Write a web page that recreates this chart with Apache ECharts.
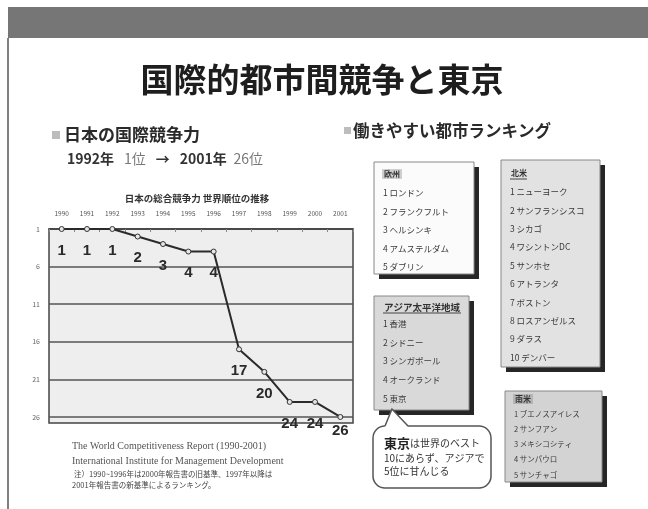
<!DOCTYPE html>
<html><head><meta charset="utf-8">
<script src="https://cdn.jsdelivr.net/npm/echarts@6/dist/echarts.min.js"></script>
<style>html,body{margin:0;padding:0;background:#fff}#c{width:648px;height:509px}</style>
</head><body><div id="c"></div>
<script>
// Japan's overall competitiveness, world rank by year
const years = ['1990','1991','1992','1993','1994','1995','1996','1997','1998','1999','2000','2001'];
const ranks = [1, 1, 1, 2, 3, 4, 4, 17, 20, 24, 24, 26];
const rankTicks = [1, 6, 11, 16, 21, 26];

// Ranking of cities that are good to work in, by region
const europeHeader = '欧州';
const europeCities = ['1 ロンドン', '2 フランクフルト', '3 ヘルシンキ', '4 アムステルダム', '5 ダブリン'];
const northAmericaHeader = '北米';
const northAmericaCities = ['1 ニューヨーク', '2 サンフランシスコ', '3 シカゴ', '4 ワシントンDC', '5 サンホセ',
  '6 アトランタ', '7 ボストン', '8 ロスアンゼルス', '9 ダラス', '10 デンバー'];
const asiaHeader = 'アジア太平洋地域';
const asiaCities = ['1 香港', '2 シドニー', '3 シンガポール', '4 オークランド', '5 東京'];
const latinHeader = '南米';
const latinCities = ['1 ブエノスアイレス', '2 サンフアン', '3 メキシコシティ', '4 サンパウロ', '5 サンチャゴ'];

const sourceLines = [
  'The World Competitiveness Report (1990-2001)',
  'International Institute for Management Development'
];
const noteLines = [
  '注）1990~1996年は2000年報告書の旧基準、1997年以降は',
  '2001年報告書の新基準によるランキング。'
];

const JP = "'Noto Sans CJK JP', 'Noto Sans', sans-serif";

function cityBox(x, y, w, h, fill, header, items, opts) {
  const els = [];
  els.push({ type: 'rect', shape: { x: x + 5, y: y + 5, width: w, height: h }, style: { fill: '#262626' }, z: 1 });
  els.push({ type: 'rect', shape: { x: x, y: y, width: w, height: h }, style: { fill: fill, stroke: '#888', lineWidth: 1 }, z: 2 });
  els.push({ type: 'text', x: x + 8, y: y + opts.headY, z: 3,
    style: { text: header, font: 'bold ' + opts.headSize + 'px ' + JP, fill: '#333', verticalAlign: 'middle',
      backgroundColor: opts.headBg || 'transparent', padding: [1, 2] } });
  if (opts.underline) {
    els.push({ type: 'line', z: 3, shape: { x1: x + 9, y1: y + opts.headY + 6, x2: x + 9 + opts.underline, y2: y + opts.headY + 6 },
      style: { stroke: '#444', lineWidth: 1 } });
  }
  items.forEach((t, i) => {
    els.push({ type: 'text', x: x + 9, y: y + opts.firstY + i * opts.step, z: 3,
      style: { text: t, font: opts.itemSize + 'px ' + JP, fill: '#3a3a3a', verticalAlign: 'middle' } });
  });
  return els;
}

const graphics = [
  // header band and slide edge
  { type: 'rect', shape: { x: 8, y: 7, width: 640, height: 31 }, style: { fill: '#767676' } },
  { type: 'line', shape: { x1: 8, y1: 38, x2: 8, y2: 509 }, style: { stroke: '#555', lineWidth: 1.5 } },
  // main title
  { type: 'text', x: 322, y: 79, style: { text: '国際的都市間競争と東京', font: 'bold 33px ' + JP, fill: '#1e1e1e', align: 'center', verticalAlign: 'middle' } },
  // left section heading
  { type: 'rect', shape: { x: 52, y: 131, width: 8, height: 8 }, style: { fill: '#bdbdbd' } },
  { type: 'text', x: 64, y: 135, style: { text: '日本の国際競争力', font: 'bold 17px ' + JP, fill: '#2a2a2a', verticalAlign: 'middle' } },
  { type: 'text', x: 67, y: 159, style: {
      text: '{b|1992年}   {l|1位}   {b|→}   {b|2001年}  {l|26位}', verticalAlign: 'middle',
      rich: { b: { font: 'bold 14px ' + JP, fill: '#333' }, l: { font: '14px ' + JP, fill: '#777' } } } },
  // chart caption
  { type: 'text', x: 197, y: 198, style: { text: '日本の総合競争力 世界順位の推移', font: 'bold 9.5px ' + JP, fill: '#333', align: 'center', verticalAlign: 'middle' } },
  // right section heading
  { type: 'rect', shape: { x: 344, y: 127, width: 7, height: 7 }, style: { fill: '#bdbdbd' } },
  { type: 'text', x: 353, y: 131, style: { text: '働きやすい都市ランキング', font: 'bold 16.5px ' + JP, fill: '#2a2a2a', verticalAlign: 'middle' } },
  // source notes
  { type: 'text', x: 72, y: 446, style: { text: sourceLines[0], font: '10px "Liberation Serif", serif', fill: '#555', verticalAlign: 'middle' } },
  { type: 'text', x: 72, y: 461, style: { text: sourceLines[1], font: '10px "Liberation Serif", serif', fill: '#555', verticalAlign: 'middle' } },
  { type: 'text', x: 74, y: 474, style: { text: noteLines[0], font: '7.5px ' + JP, fill: '#444', verticalAlign: 'middle' } },
  { type: 'text', x: 72, y: 485, style: { text: noteLines[1], font: '7.5px ' + JP, fill: '#444', verticalAlign: 'middle' } }
]
.concat(cityBox(374, 162, 100, 112, '#fbfbfb', europeHeader, europeCities,
  { headY: 12, firstY: 31, step: 18.5, headBg: '#cfcfcf', headSize: 8, itemSize: 8.5 }))
.concat(cityBox(501, 160, 99, 207, '#e2e2e2', northAmericaHeader, northAmericaCities,
  { headY: 13, firstY: 32, step: 18.4, underline: 17, headSize: 8, itemSize: 8.5 }))
.concat(cityBox(374, 296, 95, 114, '#d9d9d9', asiaHeader, asiaCities,
  { headY: 11, firstY: 28, step: 18.6, underline: 78, headSize: 9.5, itemSize: 8.5 }))
.concat(cityBox(505, 391, 97, 91, '#d3d3d3', latinHeader, latinCities,
  { headY: 8, firstY: 23, step: 15.2, headBg: '#b5b5b5', headSize: 8, itemSize: 7.5 }))
.concat([
  // speech bubble pointing at Tokyo
  { type: 'rect', z: 4, shape: { x: 373, y: 426, width: 118, height: 62, r: 12 }, style: { fill: '#fff', stroke: '#555', lineWidth: 1.5 } },
  { type: 'polygon', z: 5, shape: { points: [[385, 427.5], [392, 409], [408, 427.5]] }, style: { fill: '#fff', stroke: '#fff', lineWidth: 1 } },
  { type: 'polyline', z: 5, shape: { points: [[385, 426], [392, 409], [408, 426]] }, style: { stroke: '#555', lineWidth: 1.5, fill: null } },
  { type: 'text', z: 6, x: 384, y: 443, style: {
      text: '{t|東京}{s|は世界のベスト}', verticalAlign: 'middle',
      rich: { t: { font: 'bold 13px ' + JP, fill: '#222' }, s: { font: '10px ' + JP, fill: '#333' } } } },
  { type: 'text', z: 6, x: 384, y: 458, style: { text: '10にあらず、アジアで', font: '10px ' + JP, fill: '#333', verticalAlign: 'middle' } },
  { type: 'text', z: 6, x: 384, y: 471, style: { text: '5位に甘んじる', font: '10px ' + JP, fill: '#333', verticalAlign: 'middle' } }
]);

// the final point's label sits tight against the bottom border
const rankData = ranks.map((v, i) => i === ranks.length - 1 ? { value: v, label: { distance: 3 } } : v);

const chart = echarts.init(document.getElementById('c'), null, { renderer: 'canvas' });
chart.setOption({
  backgroundColor: '#fff',
  animation: false,
  textStyle: { fontFamily: JP },
  grid: { left: 49, top: 229, width: 304, height: 194, show: true, backgroundColor: '#eeeeee', borderColor: '#444', borderWidth: 1.5 },
  xAxis: {
    type: 'category', position: 'top', data: years, boundaryGap: true,
    axisLine: { show: true, lineStyle: { color: '#444', width: 1.5 } },
    axisTick: { show: true, inside: true, length: 3, lineStyle: { color: '#888' } },
    axisLabel: { fontSize: 6.5, color: '#555', margin: 12 }
  },
  yAxis: {
    type: 'value', inverse: true, min: 1, max: 26.8,
    axisLine: { show: false },
    axisTick: { show: false, customValues: rankTicks },
    axisLabel: { customValues: rankTicks, fontSize: 7, color: '#666', margin: 9 },
    splitLine: { show: true, lineStyle: { color: '#555', width: 1.5 } }
  },
  series: [{
    type: 'line', data: rankData,
    symbol: 'circle', symbolSize: 5,
    lineStyle: { color: '#2a2a2a', width: 2 },
    itemStyle: { color: '#e6e6e6', borderColor: '#333', borderWidth: 1 },
    label: { show: true, position: 'bottom', distance: 11, fontSize: 15, fontWeight: 'bold', color: '#2a2a2a', fontFamily: "'Liberation Sans Narrow', 'Liberation Sans', sans-serif" }
  }],
  graphic: graphics
});
</script></body></html>
